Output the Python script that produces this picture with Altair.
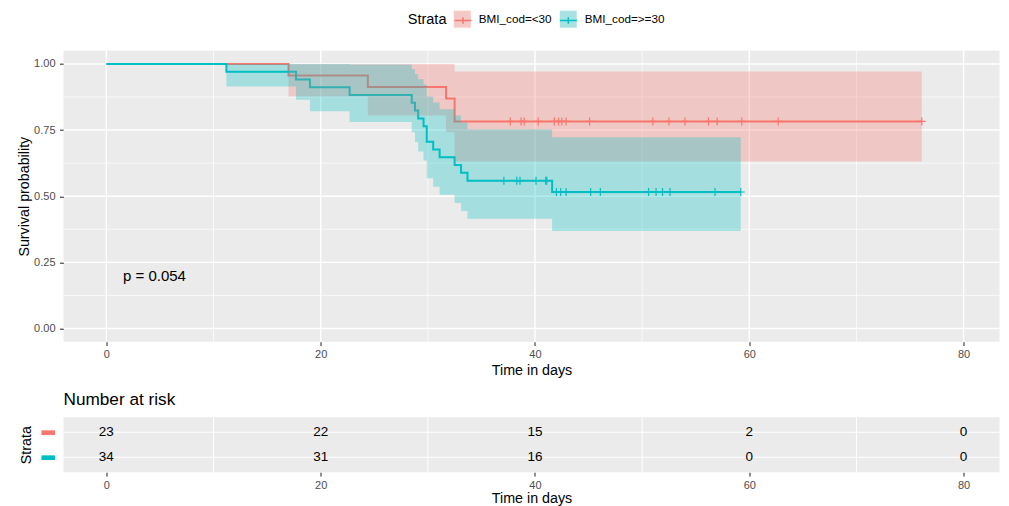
import altair as alt
import pandas as pd

FONT = "Liberation Sans"

# ---------------- data ----------------
strata = ["BMI_cod=<30", "BMI_cod=>=30"]
strata_keys = ["k1", "k2"]
strata_colors = ["#F8766D", "#00BFC4"]
key_fills = ["#F4C9C6", "#A9E2E3"]

low_time = [0, 17.0, 24.4, 31.7, 32.5, 76.1]
low_surv = [1.0, 0.9565, 0.9130, 0.8696, 0.7826, 0.7826]
low_lower = [1.0, 0.877, 0.805, 0.742, 0.631, 0.631]
low_upper = [1.0, 1.0, 1.0, 1.0, 0.971, 0.971]

high_time = [0, 11.2, 17.7, 19.0, 22.7, 28.5, 28.8, 29.1, 29.6, 29.9, 30.5,
             31.1, 32.5, 33.1, 33.7, 41.6, 59.2]
high_surv = [1.0, 0.9706, 0.9412, 0.9118, 0.8824, 0.8529, 0.8235, 0.7941,
             0.7647, 0.7059, 0.6765, 0.6471, 0.6176, 0.5882, 0.5588, 0.5158, 0.5158]
high_lower = [1.0, 0.915, 0.865, 0.821, 0.780, 0.742, 0.705, 0.669, 0.635,
              0.568, 0.536, 0.505, 0.474, 0.444, 0.415, 0.368, 0.368]
high_upper = [1.0, 1.0, 1.0, 1.0, 0.998, 0.981, 0.962, 0.942, 0.922, 0.877,
              0.854, 0.829, 0.805, 0.779, 0.753, 0.723, 0.723]

low_cens_time = [37.7, 38.7, 39.0, 40.3, 41.8, 42.2, 42.5, 42.9, 45.1, 51.0,
                 52.5, 54.0, 56.2, 57.0, 59.3, 62.7, 76.1]
low_cens_surv = [0.7826] * 17
high_cens_time = [37.1, 38.3, 38.6, 40.1, 41.0, 41.1, 42.0, 42.4, 42.9, 45.2,
                  46.1, 50.6, 51.3, 51.9, 52.6, 56.8, 59.2]
high_cens_surv = [0.5588] * 6 + [0.5158] * 11

risk_times = [0, 20, 40, 60, 80]
risk_low = [23, 22, 15, 2, 0]
risk_high = [34, 31, 16, 0, 0]

pval_text = ["p = 0.054"]
pval_x = [1.55]
pval_y = [0.2]

x_major = [0, 20, 40, 60, 80]
x_minor = [10, 30, 50, 70]
y_major = [0, 0.25, 0.5, 0.75, 1.0]
y_minor = [0.125, 0.375, 0.625, 0.875]
risk_rows = [1, 2]

# ---------------- tables ----------------
curve_df = pd.concat([
    pd.DataFrame({"time": low_time, "surv": low_surv, "lower": low_lower,
                  "upper": low_upper, "strata": strata[0]}),
    pd.DataFrame({"time": high_time, "surv": high_surv, "lower": high_lower,
                  "upper": high_upper, "strata": strata[1]}),
], ignore_index=True)

cens_df = pd.concat([
    pd.DataFrame({"time": low_cens_time, "surv": low_cens_surv, "strata": strata[0]}),
    pd.DataFrame({"time": high_cens_time, "surv": high_cens_surv, "strata": strata[1]}),
], ignore_index=True)

risk_df = pd.concat([
    pd.DataFrame({"time": risk_times, "row": 1, "n": risk_low}),
    pd.DataFrame({"time": risk_times, "row": 2, "n": risk_high}),
], ignore_index=True)

legend_df = pd.DataFrame({"strata": strata, "key": strata_keys})
pval_df = pd.DataFrame({"x": pval_x, "y": pval_y, "t": pval_text})

# ---------------- scales / axes ----------------
PLOT_W = 936
xs = alt.Scale(domain=[-4, 83.35], nice=False, zero=False)
ys = alt.Scale(domain=[-0.05, 1.05], nice=False, zero=False)
ys_bot = alt.Scale(domain=[0.4, 2.6], nice=False, zero=False, reverse=True)
cs = alt.Scale(domain=strata, range=strata_colors)

AX = dict(domain=False, grid=False, tickColor="#333333", tickWidth=1.1,
          labelColor="#4D4D4D", labelFontSize=11, labelFont=FONT,
          titleColor="black", titleFontSize=14.3, titleFontWeight="normal",
          titleFont=FONT, labelFlush=False)

x_axis_top = alt.Axis(values=x_major, format="d", title="Time in days",
                      tickSize=3.7, labelPadding=3.4, titlePadding=4.0, **AX)
y_axis_top = alt.Axis(values=y_major, format=".2f", title="Survival probability",
                      tickSize=4, labelPadding=4.5, titleX=-34.6, titleY=145.5,
                      titleAngle=270, titleAlign="center",
                      titleBaseline="alphabetic", **AX)
x_axis_bot = alt.Axis(values=x_major, format="d", title="Time in days",
                      tickSize=3.7, labelPadding=3.5, titlePadding=1, **AX)
y_axis_bot = alt.Axis(values=risk_rows, labels=False, domain=False, grid=False,
                      ticks=True, tickSize=13.6, tickWidth=4.7,
                      tickColor={"condition": {"test": "datum.value === 1",
                                               "value": strata_colors[0]},
                                 "value": strata_colors[1]},
                      offset=9, title="Strata", titleFontSize=14.3,
                      titleFontWeight="normal", titleColor="black",
                      titleFont=FONT, titleX=-24.5, titleY=27.5, titleAngle=270,
                      titleAlign="center", titleBaseline="alphabetic")


def X(field, axis=x_axis_top, scale=xs):
    return alt.X(f"{field}:Q", scale=scale, axis=axis)


def Y(field, axis=y_axis_top, scale=ys):
    return alt.Y(f"{field}:Q", scale=scale, axis=axis)


color_enc = alt.Color("strata:N", scale=cs, legend=None)
VIEW = alt.ViewBackground(fill="#EBEBEB", stroke=None)

# ---------------- main survival panel ----------------
gx_minor = alt.Chart(pd.DataFrame({"v": x_minor})).mark_rule(
    color="white", strokeWidth=0.7).encode(x=X("v"))
gy_minor = alt.Chart(pd.DataFrame({"v": y_minor})).mark_rule(
    color="white", strokeWidth=0.7).encode(y=Y("v"))
gx_major = alt.Chart(pd.DataFrame({"v": x_major})).mark_rule(
    color="white", strokeWidth=1.4).encode(x=X("v"))
gy_major = alt.Chart(pd.DataFrame({"v": y_major})).mark_rule(
    color="white", strokeWidth=1.4).encode(y=Y("v"))

lines = alt.Chart(curve_df).mark_line(interpolate="step-after", strokeWidth=2).encode(
    x=X("time"), y=Y("surv"), color=color_enc)

cens = alt.Chart(cens_df).mark_point(
    shape="M-1,0H1M0,-1V1", size=64, filled=False, strokeWidth=1.2, opacity=1
).encode(x=X("time"), y=Y("surv"), color=color_enc)

bands = alt.Chart(curve_df).mark_area(interpolate="step-after", opacity=0.3).encode(
    x=X("time"), y=Y("lower"), y2=alt.Y2("upper:Q"), color=color_enc)

pval = alt.Chart(pval_df).mark_text(
    align="left", baseline="middle", fontSize=15, font=FONT, color="black"
).encode(x=X("x"), y=Y("y"), text="t:N")

LEG_X = 344.3
TITLE_FS = 14.5
LABEL_FS = 11.7
LEG = dict(orient="none", legendY=-40, direction="horizontal",
           titleOrient="left", symbolSize=289, labelFontSize=LABEL_FS,
           labelFont=FONT, titleFont=FONT, titleFontSize=TITLE_FS,
           titleFontWeight="normal", titleColor="black", labelColor="black",
           padding=0, symbolOpacity=1)

# key squares with title and labels
legA = alt.Chart(legend_df).mark_point(filled=True, size=0, opacity=1).encode(
    fill=alt.Fill("strata:N", scale=alt.Scale(domain=strata, range=key_fills),
                  legend=alt.Legend(symbolType="M-1,-1H1V1H-1Z", title="Strata",
                                    legendX=LEG_X, labelOffset=8, columnPadding=8,
                                    titlePadding=7, symbolStrokeWidth=0,
                                    zindex=0, **LEG)))
# line + cross drawn on top of the key squares (symbols only)
title_w = 2.668 * TITLE_FS
label1_w = 6.226 * LABEL_FS
legB = alt.Chart(legend_df).mark_point(filled=False, size=0, opacity=1).encode(
    stroke=alt.Stroke("key:N", scale=alt.Scale(domain=strata_keys, range=strata_colors),
                      legend=alt.Legend(symbolType="M-1,0H1M0,-0.38V0.38",
                                        title="", titlePadding=0,
                                        legendX=LEG_X + title_w + 7,
                                        labelOffset=0,
                                        columnPadding=8 + label1_w + 8 - 6.5,
                                        labelExpr="''",
                                        symbolStrokeWidth=1.5, zindex=1, **LEG)))

top = alt.layer(gx_minor, gy_minor, gx_major, gy_major, lines, cens, bands,
                pval, legA, legB).properties(width=PLOT_W, height=291, view=VIEW)

# ---------------- number at risk table ----------------
bx_minor = alt.Chart(pd.DataFrame({"v": x_minor})).mark_rule(
    color="white", strokeWidth=1).encode(x=X("v", axis=x_axis_bot))
by_rows = alt.Chart(pd.DataFrame({"v": risk_rows})).mark_rule(
    color="white", strokeWidth=1.1).encode(y=Y("v", axis=y_axis_bot, scale=ys_bot))
risk_text = alt.Chart(risk_df).mark_text(
    fontSize=13.5, font=FONT, color="black", baseline="middle", align="center"
).encode(x=X("time", axis=x_axis_bot), y=Y("row", axis=y_axis_bot, scale=ys_bot),
         text="n:N")

bottom = alt.layer(bx_minor, by_rows, risk_text).properties(
    width=PLOT_W, height=55, view=VIEW,
    title=alt.TitleParams("Number at risk", anchor="start", frame="group",
                          fontSize=17.2, fontWeight="normal", color="black",
                          font=FONT, offset=8))

chart = alt.vconcat(top, bottom, spacing=12.5).resolve_scale(
    x="independent", y="independent"
).resolve_legend(fill="independent", stroke="independent").configure_view(
    fill="#EBEBEB", stroke=None
).properties(padding={"left": 9.5, "top": 2.7, "right": 0, "bottom": 0},
             background="white")

chart.save("out.html", embed_options={"renderer": "svg", "actions": False})
